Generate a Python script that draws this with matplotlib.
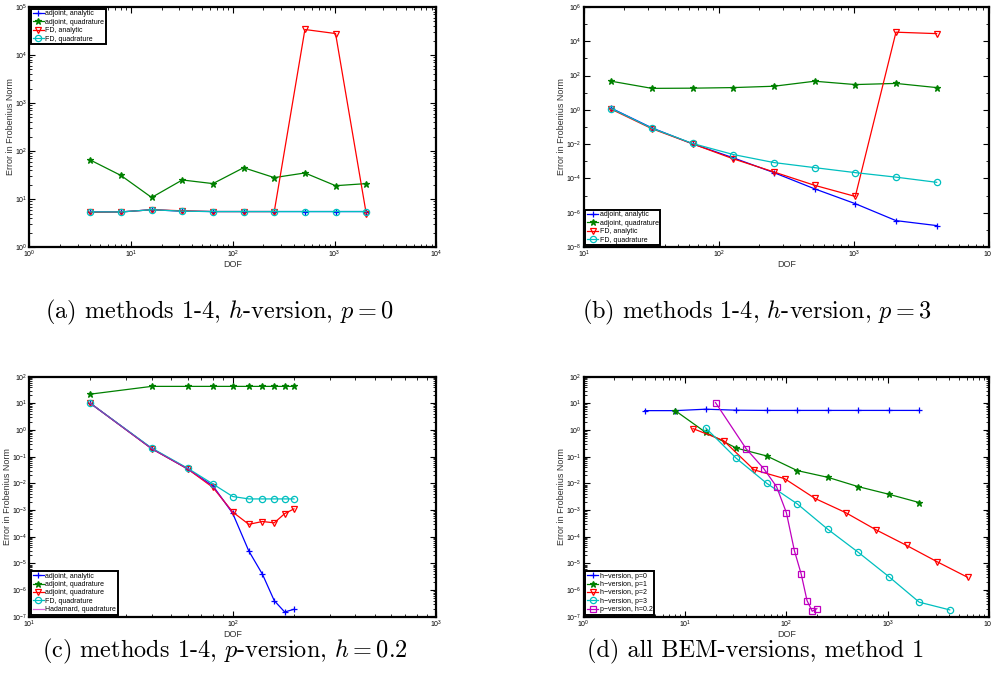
import numpy as np
import matplotlib
matplotlib.use("Agg")
import matplotlib.pyplot as plt
from matplotlib.ticker import LogLocator, NullFormatter

plt.rcParams['font.family'] = ['Liberation Sans', 'DejaVu Sans']
plt.rcParams['mathtext.fontset'] = 'cm'
plt.rcParams['axes.formatter.use_mathtext'] = True

# (a) h-version, p = 0
dof_a = [4, 8, 16, 32, 64, 128, 256, 512, 1024, 2048]
a_adj_ana = [5.4, 5.4, 6.0, 5.6, 5.5, 5.5, 5.5, 5.5, 5.5, 5.5]
a_adj_quad = [65, 31, 10.8, 25, 21, 45, 28, 35, 19, 21]
a_fd_ana = [5.3, 5.4, 6.0, 5.7, 5.5, 5.5, 5.5, 34000, 28000, 5.0]
a_fd_quad = [5.4, 5.4, 6.0, 5.6, 5.5, 5.5, 5.5, 5.5, 5.5, 5.5]

# (b) h-version, p = 3
dof_b = [16, 32, 64, 128, 256, 512, 1024, 2048, 4096]
b_adj_ana = [1.25, 0.089, 0.0105, 0.0016, 2.2e-4, 2.5e-5, 3.4e-6, 3.5e-7, 1.8e-7]
b_adj_quad = [47, 18, 18.5, 20, 24, 47, 30, 35, 20]
b_fd_ana = [1.1, 0.08, 0.0105, 0.0014, 2.4e-4, 4e-5, 9e-6, 34000, 28000]
b_fd_quad = [1.2, 0.085, 0.011, 0.0025, 8.5e-4, 4.3e-4, 2.2e-4, 1.2e-4, 6e-5]

# (c) p-version, h = 0.2
dof_c = [20, 40, 60, 80, 100, 120, 140, 160, 180, 200]
c_adj_ana = [10, 0.2, 0.035, 0.008, 7.5e-4, 2.9e-5, 3.9e-6, 4e-7, 1.5e-7, 1.9e-7]
c_adj_quad = [22, 43, 43, 43, 43, 43, 43, 43, 43, 43]
c_adj_quad2 = [10, 0.2, 0.035, 0.007, 8.4e-4, 2.9e-4, 3.7e-4, 3.3e-4, 7.3e-4, 1.1e-3]
c_fd_quad = [10, 0.21, 0.037, 0.0094, 0.0032, 0.0026, 0.0026, 0.0026, 0.0026, 0.0026]
dof_c_had = [20, 40, 60, 80, 100]
c_had_quad = [10, 0.2, 0.035, 0.0075, 8e-4]

# (d) all BEM versions, method 1
dof_d0 = [4, 8, 16, 32, 64, 128, 256, 512, 1024, 2048]
d_p0 = [5.3, 5.3, 6.0, 5.5, 5.4, 5.4, 5.4, 5.4, 5.4, 5.4]
dof_d1 = [8, 16, 32, 64, 128, 256, 512, 1024, 2048]
d_p1 = [5.3, 0.81, 0.21, 0.106, 0.03, 0.0168, 0.0075, 0.0039, 0.0019]
dof_d2 = [12, 24, 48, 96, 192, 384, 768, 1536, 3072, 6144]
d_p2 = [1.12, 0.4, 0.032, 0.015, 0.0027, 8e-4, 1.8e-4, 4.7e-5, 1.15e-5, 3e-6]
dof_d3 = [16, 32, 64, 128, 256, 512, 1024, 2048, 4096]
d_p3 = [1.19, 0.087, 0.01, 0.0017, 1.9e-4, 2.6e-5, 3.2e-6, 3.5e-7, 1.8e-7]
dof_dp = [20, 40, 60, 80, 100, 120, 140, 160, 180, 200]
d_pv = [10.6, 0.2, 0.035, 0.0075, 8e-4, 3e-5, 4e-6, 4e-7, 1.6e-7, 2e-7]

captions = [r"(a) methods 1-4, $h$-version, $p = 0$",
            r"(b) methods 1-4, $h$-version, $p = 3$",
            r"(c) methods 1-4, $p$-version, $h = 0.2$",
            r"(d) all BEM-versions, method 1"]

styles = {
    'b': dict(color='blue', marker='+', ms=5, mew=0.9),
    'g': dict(color='green', marker='*', ms=4.5, mew=0.9),
    'r': dict(color='red', marker='v', ms=5, mfc='none', mew=0.9),
    'c': dict(color='c', marker='o', ms=4.5, mfc='none', mew=0.9),
    'm': dict(color='m', marker='s', ms=4, mfc='none', mew=0.9),
}

fig = plt.figure(figsize=(9.91, 7.0), dpi=100)
ax_a = fig.add_axes([0.0293, 0.647, 0.411, 0.343])
ax_b = fig.add_axes([0.589, 0.647, 0.409, 0.343])
ax_c = fig.add_axes([0.0293, 0.119, 0.411, 0.343])
ax_d = fig.add_axes([0.589, 0.119, 0.409, 0.343])


def style_axis(ax, xlim, ylim, yticks):
    ax.set_xscale('log')
    ax.set_yscale('log')
    ax.set_xlim(*xlim)
    ax.set_ylim(*ylim)
    ax.set_yticks(yticks)
    ax.xaxis.set_minor_locator(LogLocator(base=10, subs=np.arange(2, 10), numticks=20))
    ax.xaxis.set_minor_formatter(NullFormatter())
    ax.yaxis.set_minor_formatter(NullFormatter())
    ax.tick_params(which='both', direction='in', top=True, right=True, labelsize=5, pad=1.5)
    ax.tick_params(which='major', length=4, width=0.8)
    ax.tick_params(which='minor', length=2, width=0.6)
    for s in ax.spines.values():
        s.set_linewidth(1.6)
    ax.set_xlabel('DOF', fontsize=6.5, labelpad=0, color='#333333')
    ax.set_ylabel('Error in Frobenius Norm', fontsize=6.5, labelpad=0, color='#333333')


def legend(ax, loc):
    leg = ax.legend(loc=loc, fontsize=5, handlelength=1.6, handletextpad=0.2,
                    borderpad=0.25, labelspacing=0.2, borderaxespad=0.25,
                    fancybox=False, framealpha=1)
    leg.get_frame().set_edgecolor('black')
    leg.get_frame().set_linewidth(1.4)


# (a)
ax_a.plot(dof_a, a_adj_ana, label='adjoint, analytic', lw=0.9, **styles['b'])
ax_a.plot(dof_a, a_adj_quad, label='adjoint, quadrature', lw=0.9, **styles['g'])
ax_a.plot(dof_a, a_fd_ana, label='FD, analytic', lw=0.9, **styles['r'])
ax_a.plot(dof_a, a_fd_quad, label='FD, quadrature', lw=0.9, **styles['c'])
style_axis(ax_a, (1, 1e4), (1, 1e5), [10.0 ** k for k in range(0, 6)])
ax_a.yaxis.set_minor_locator(LogLocator(base=10, subs=np.arange(2, 10), numticks=20))
legend(ax_a, 'upper left')

# (b)
ax_b.plot(dof_b, b_adj_ana, label='adjoint, analytic', lw=0.9, **styles['b'])
ax_b.plot(dof_b, b_adj_quad, label='adjoint, quadrature', lw=0.9, **styles['g'])
ax_b.plot(dof_b, b_fd_ana, label='FD, analytic', lw=0.9, **styles['r'])
ax_b.plot(dof_b, b_fd_quad, label='FD, quadrature', lw=0.9, **styles['c'])
style_axis(ax_b, (10, 1e4), (1e-8, 1e6), [10.0 ** k for k in range(-8, 7, 2)])
ax_b.yaxis.set_minor_locator(LogLocator(base=10, subs=[1.0], numticks=30))
legend(ax_b, 'lower left')

# (c)
ax_c.plot(dof_c, c_adj_ana, label='adjoint, analytic', lw=0.9, **styles['b'])
ax_c.plot(dof_c, c_adj_quad, label='adjoint, quadrature', lw=0.9, **styles['g'])
ax_c.plot(dof_c, c_adj_quad2, label='adjoint, quadrature', lw=0.9, **styles['r'])
ax_c.plot(dof_c, c_fd_quad, label='FD, quadrature', lw=0.9, **styles['c'])
ax_c.plot(dof_c_had, c_had_quad, color='m', lw=0.9, alpha=0.6, label='Hadamard, quadrature')
style_axis(ax_c, (10, 1e3), (1e-7, 1e2), [10.0 ** k for k in range(-7, 3)])
ax_c.yaxis.set_minor_locator(LogLocator(base=10, subs=np.arange(2, 10), numticks=20))
legend(ax_c, 'lower left')

# (d)
ax_d.plot(dof_d0, d_p0, label='h\u2212version, p=0', lw=0.9, **styles['b'])
ax_d.plot(dof_d1, d_p1, label='h\u2212version, p=1', lw=0.9, **styles['g'])
ax_d.plot(dof_d2, d_p2, label='h\u2212version, p=2', lw=0.9, **styles['r'])
ax_d.plot(dof_d3, d_p3, label='h\u2212version, p=3', lw=0.9, **styles['c'])
ax_d.plot(dof_dp, d_pv, label='p\u2212version, h=0.2', lw=0.9, **styles['m'])
style_axis(ax_d, (1, 1e4), (1e-7, 1e2), [10.0 ** k for k in range(-7, 3)])
ax_d.yaxis.set_minor_locator(LogLocator(base=10, subs=np.arange(2, 10), numticks=20))
legend(ax_d, 'lower left')

cap_pos = [(0.221, 0.554), (0.764, 0.554), (0.227, 0.07), (0.762, 0.07)]
for (cx, cy), txt in zip(cap_pos, captions):
    fig.text(cx, cy, txt, ha='center', va='center', fontsize=17.5, family='cmr10')

fig.savefig('out.png', dpi=100)
